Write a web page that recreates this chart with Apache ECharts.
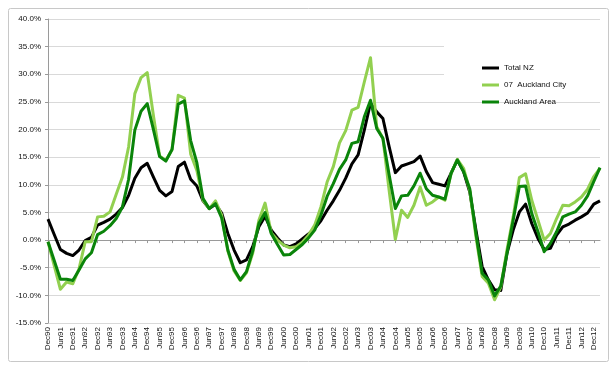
<!DOCTYPE html>
<html>
<head>
<meta charset="utf-8">
<script src="https://cdn.jsdelivr.net/npm/echarts@6/dist/echarts.min.js"></script>
<style>
html,body{margin:0;padding:0;background:#fff;}
#chart{width:616px;height:371px;}
</style>
</head>
<body>
<div id="chart"></div>
<script>
var quarters = ['Dec90','Mar91','Jun91','Sep91','Dec91','Mar92','Jun92','Sep92','Dec92','Mar93','Jun93','Sep93','Dec93','Mar94','Jun94','Sep94','Dec94','Mar95','Jun95','Sep95','Dec95','Mar96','Jun96','Sep96','Dec96','Mar97','Jun97','Sep97','Dec97','Mar98','Jun98','Sep98','Dec98','Mar99','Jun99','Sep99','Dec99','Mar00','Jun00','Sep00','Dec00','Mar01','Jun01','Sep01','Dec01','Mar02','Jun02','Sep02','Dec02','Mar03','Jun03','Sep03','Dec03','Mar04','Jun04','Sep04','Dec04','Mar05','Jun05','Sep05','Dec05','Mar06','Jun06','Sep06','Dec06','Mar07','Jun07','Sep07','Dec07','Mar08','Jun08','Sep08','Dec08','Mar09','Jun09','Sep09','Dec09','Mar10','Jun10','Sep10','Dec10','Mar11','Jun11','Sep11','Dec11','Mar12','Jun12','Sep12','Dec12','Mar13'];

var totalNZ = [3.8,1.0,-1.7,-2.4,-2.8,-1.8,-0.1,0.5,2.7,3.2,
  3.8,4.7,5.9,8.1,11.2,13.1,13.9,11.4,9.0,8.0,
  8.8,13.3,14.1,11.0,9.8,7.1,5.7,6.5,4.9,1.2,
  -1.8,-4.1,-3.6,-1.2,2.4,4.3,1.8,0.4,-0.9,-1.2,
  -0.7,0.2,1.1,2.1,3.5,5.4,7.1,9.0,11.2,13.8,
  15.4,19.9,24.8,23.2,22.0,16.9,12.2,13.4,13.8,14.2,
  15.2,12.4,10.4,10.1,9.8,12.1,14.5,12.4,8.7,1.8,
  -4.8,-7.2,-9.0,-9.1,-2.4,1.8,5.1,6.5,3.0,0.3,
  -1.7,-1.5,0.9,2.4,2.9,3.6,4.2,4.9,6.5,7.1];

var aucklandCity = [-0.3,-4.6,-8.9,-7.6,-7.9,-5.2,-0.3,-0.3,4.2,4.3,
  5.1,8.3,11.4,16.9,26.5,29.4,30.3,22.5,15.2,14.4,
  16.4,26.2,25.7,15.6,12.6,7.2,5.7,7.1,4.5,-2.0,
  -5.6,-7.3,-5.9,-2.4,3.6,6.7,1.3,0.0,-0.9,-1.4,
  -1.2,-0.4,0.9,2.7,6.0,10.5,13.3,17.6,19.8,23.5,
  24.0,28.6,33.0,20.5,18.4,9.0,0.1,5.4,4.1,6.3,
  9.6,6.3,6.9,7.8,7.2,12.1,14.6,13.0,9.0,0.6,
  -6.6,-7.8,-10.8,-8.5,-1.8,4.2,11.3,12.0,7.2,3.6,
  0.0,1.2,3.9,6.3,6.2,6.9,7.8,9.2,11.5,13.0];

var aucklandArea = [-0.3,-3.7,-7.1,-7.1,-7.3,-5.4,-3.4,-2.3,1.0,1.6,
  2.6,3.9,6.0,11.0,19.9,23.3,24.7,20.0,15.1,14.3,
  16.4,24.6,25.2,18.0,14.0,7.5,5.7,6.6,4.0,-1.8,
  -5.3,-7.2,-5.7,-2.0,3.0,5.0,1.2,-0.8,-2.7,-2.6,
  -1.7,-0.8,0.4,1.8,4.5,7.9,10.2,12.8,14.5,17.5,
  17.8,22.3,25.3,20.2,18.4,11.8,5.7,8.0,8.1,9.8,
  12.1,9.3,8.1,7.8,7.4,12.1,14.5,12.4,9.3,1.2,
  -6.0,-7.2,-10.1,-8.3,-2.4,3.6,9.7,9.8,4.8,1.5,
  -2.1,-0.6,1.5,4.2,4.7,5.1,6.3,8.0,10.6,13.1];

var seriesNames = ['Total NZ','07  Auckland City','Auckland Area'];
var seriesColors = ['#000000','#92D050','#0A840A'];

var FONT = 'Liberation Sans';
var chart = echarts.init(document.getElementById('chart'), null, {renderer:'canvas'});
var dataSets = [totalNZ, aucklandCity, aucklandArea];

chart.setOption({
  animation: false,
  backgroundColor: '#ffffff',
  textStyle: {fontFamily: FONT},
  grid: {left: 48, right: 16, top: 19, bottom: 48, containLabel: false},
  graphic: [
    {type:'rect', shape:{x:8.5, y:8.5, width:600, height:353, r:2}, style:{fill:null, stroke:'#c8c8c8', lineWidth:1}, z:0},
    {type:'rect', shape:{x:444, y:24, width:156, height:72}, style:{fill:'#ffffff'}, z:1}
  ],
  legend: {
    data: seriesNames,
    orient: 'vertical',
    left: 482, top: 63,
    icon: 'rect',
    itemWidth: 17, itemHeight: 3, itemGap: 7,
    padding: 0,
    textStyle: {fontSize: 8, lineHeight: 10, color: '#111', fontFamily: FONT}
  },
  xAxis: [
    {
      type: 'category', data: quarters, boundaryGap: false, position: 'bottom',
      axisLine: {show: false, onZero: false},
      axisTick: {show: false},
      axisLabel: {interval: 1, rotate: 90, fontSize: 8, color: '#111', margin: 4, fontFamily: FONT},
      splitLine: {show: false}
    },
    {
      type: 'category', data: quarters, boundaryGap: false, position: 'bottom',
      axisLine: {show: true, onZero: true, lineStyle: {color: '#9a9a9a', width: 1}},
      axisTick: {show: true, interval: 1, length: 3, lineStyle: {color: '#9a9a9a'}},
      axisLabel: {show: false},
      splitLine: {show: false}
    }
  ],
  yAxis: {
    type: 'value', min: -15, max: 40, interval: 5,
    axisLine: {show: true, lineStyle: {color: '#9a9a9a'}},
    axisTick: {show: true, length: 3, lineStyle: {color: '#9a9a9a'}},
    axisLabel: {fontSize: 8, color: '#111', margin: 7, fontFamily: FONT,
      formatter: function(v){ return v.toFixed(1) + '%'; }},
    splitLine: {lineStyle: {color: '#d9d9d9', width: 1}}
  },
  series: dataSets.map(function(d, k){
    return {
      name: seriesNames[k], type: 'line', data: d, xAxisIndex: 0,
      symbol: 'none', smooth: false,
      lineStyle: {width: 3, color: seriesColors[k], join: 'round'},
      itemStyle: {color: seriesColors[k]},
      z: 2 + k
    };
  })
});
</script>
</body>
</html>
